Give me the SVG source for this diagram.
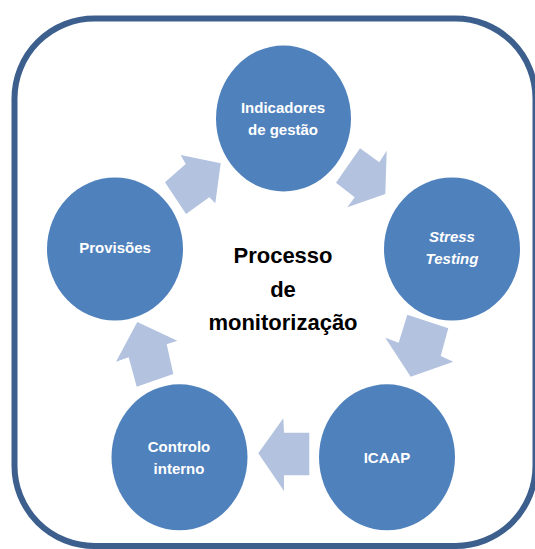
<svg xmlns="http://www.w3.org/2000/svg" width="535" height="549" viewBox="0 0 535 549">
<style>
.frame{fill:#ffffff;stroke:#3C5F8E;stroke-width:6}
.node{fill:#4F81BD}
.arrow{fill:#B2C2DF}
.lbl{font-family:"Liberation Sans",Arial,sans-serif;font-weight:bold;font-size:15px;fill:#ffffff;text-anchor:middle}
.title{font-family:"Liberation Sans",Arial,sans-serif;font-weight:bold;font-size:22px;fill:#000000;text-anchor:middle}
</style>
<rect class="frame" x="14.5" y="18.5" width="521" height="527.5" rx="80" ry="80"/>
<g id="connectors">
<polygon class="arrow" points="165,182.3 185.7,164 180.7,155 220.7,163.3 215.3,203.3 209.3,197.3 186,214"/>
<polygon class="arrow" points="360,148.3 379.3,162.3 386.7,150.7 385.3,194 347.3,207.3 354.7,197.3 336,182.7"/>
<polygon class="arrow" points="407.3,314.7 448.3,328.3 440.7,356 453.3,361.7 410.7,376.7 385.3,337.7 398.7,342.7"/>
<polygon class="arrow" points="309.3,432.7 309.3,475.3 284,475.3 284,491 258.3,453.3 283.3,418.3 284,432.7"/>
<polygon class="arrow" points="137.3,322 177.3,340.7 166.7,344.3 173.3,374 136.7,386.7 128.7,357.3 116,361.7"/>
</g>
<g id="indicadores">
<ellipse class="node" cx="283.5" cy="118.5" rx="67.5" ry="73"/>
<text class="lbl" x="283" y="113">Indicadores</text>
<text class="lbl" x="283" y="135">de gestão</text>
</g>
<g id="stress">
<ellipse class="node" cx="452" cy="249" rx="68" ry="71.5"/>
<text class="lbl" x="452" y="241.5" font-style="italic">Stress</text>
<text class="lbl" x="452" y="263.5" font-style="italic">Testing</text>
</g>
<g id="icaap">
<ellipse class="node" cx="387" cy="457.3" rx="68" ry="73"/>
<text class="lbl" x="387" y="463">ICAAP</text>
</g>
<g id="controlo">
<ellipse class="node" cx="179.5" cy="457.3" rx="68" ry="73"/>
<text class="lbl" x="179" y="452">Controlo</text>
<text class="lbl" x="179" y="474">interno</text>
</g>
<g id="provisoes">
<ellipse class="node" cx="115" cy="249" rx="68" ry="71.5"/>
<text class="lbl" x="115" y="253">Provisões</text>
</g>
<g id="centro">
<text class="title" x="283" y="263">Processo</text>
<text class="title" x="283" y="297">de</text>
<text class="title" x="283" y="330">monitorização</text>
</g>
</svg>
